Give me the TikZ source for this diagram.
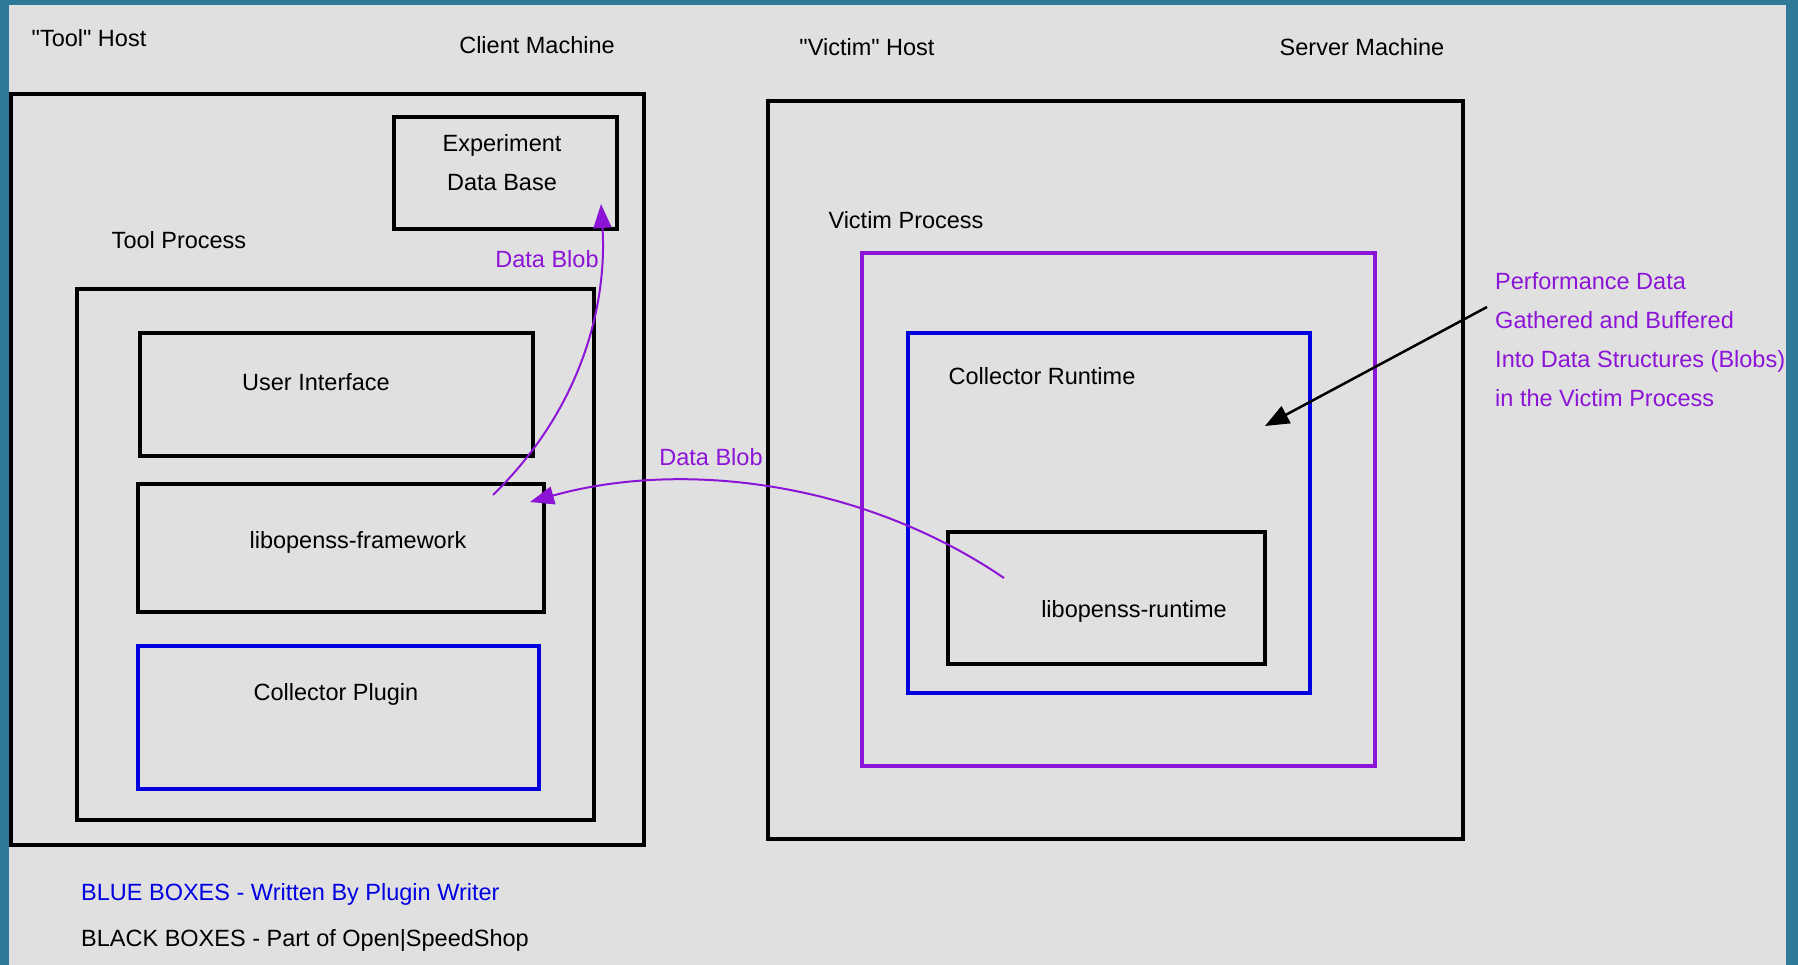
\documentclass[tikz,border=0pt]{standalone}
\usepackage{fontspec}
\setmainfont{Liberation Sans}[Ligatures=TeXOff]
\usetikzlibrary{arrows.meta}
\definecolor{bgteal}{RGB}{46,122,152}
\definecolor{bggray}{RGB}{224,224,224}
\definecolor{vio}{RGB}{140,20,215}
\definecolor{bblue}{RGB}{0,0,225}
\tikzset{
  box/.style={draw=black, line width=4pt, inner sep=0pt},
  bluebox/.style={draw=bblue, line width=3.5pt, inner sep=0pt},
  viobox/.style={draw=vio, line width=3.5pt, inner sep=0pt},
  lbl/.style={inner sep=0pt, font=\fontsize{23.5}{39}\selectfont},
  viotxt/.style={lbl, text=vio},
  vioarrow/.style={draw=vio, line width=2pt, -{Triangle[length=24pt,width=18pt]}},
  blkarrow/.style={draw=black, line width=2.5pt, -{Triangle[length=24pt,width=19pt]}}
}
\begin{document}
\begin{tikzpicture}[x=1pt,y=-1pt]
\useasboundingbox (0,0) rectangle (1798,965);
\fill[bgteal] (0,0) rectangle (1798,965);
\fill[bggray] (9,5) rectangle (1786,965);

% left side
\node (client) [box, minimum width=633pt, minimum height=751pt] at (327.5,469.5) {};
\node (expdb) [box, minimum width=223pt, minimum height=112pt] at (505.5,173) {};
\node (toolproc) [box, minimum width=517pt, minimum height=531pt] at (335.5,554.5) {};
\node (ui) [box, minimum width=393pt, minimum height=123pt] at (336.5,394.5) {};
\node (fw) [box, minimum width=406pt, minimum height=128pt] at (341,548) {};
\node (plugin) [bluebox, minimum width=401pt, minimum height=143pt] at (338.5,717.5) {};

% right side
\node (server) [box, minimum width=695pt, minimum height=738pt] at (1115.5,470) {};
\node (victim) [viobox, minimum width=513pt, minimum height=513pt] at (1118.5,509.5) {};
\node (collrt) [bluebox, minimum width=402pt, minimum height=360pt] at (1109,513) {};
\node (rt) [box, minimum width=317pt, minimum height=132pt] at (1106.5,598) {};

% labels
\node (toolhost) [lbl] at (89,38) {"Tool" Host};
\node (clientlbl) [lbl] at (537,45) {Client Machine};
\node (victimhost) [lbl] at (867,47) {"Victim" Host};
\node (serverlbl) [lbl] at (1362,47) {Server Machine};
\node (expdblbl) [lbl, align=center] at (502,163) {Experiment\\Data Base};
\node (toolproclbl) [lbl] at (179,240) {Tool Process};
\node (uilbl) [lbl] at (316,382) {User Interface};
\node (fwlbl) [lbl] at (358,542) {libopenss-framework};
\node (pluginlbl) [lbl] at (336,694) {Collector Plugin};
\node (victimlbl) [lbl] at (906,220) {Victim Process};
\node (collrtlbl) [lbl] at (1042,376) {Collector Runtime};
\node (rtlbl) [lbl] at (1134,611) {libopenss-runtime};
\node (blob1) [viotxt] at (547,259) {Data Blob};
\node (blob2) [viotxt] at (711,457) {Data Blob};
\node (perf) [viotxt, align=left, anchor=west] at (1495,340) {Performance Data\\Gathered and Buffered\\Into Data Structures (Blobs)\\in the Victim Process};
\node (legblue) [lbl, text=bblue, anchor=west] at (81,894) {BLUE BOXES - Written By Plugin Writer};
\node (legblack) [lbl, anchor=west] at (81,940) {BLACK BOXES - Part of Open|SpeedShop};

% connectors
\coordinate (a1s) at (493,495);
\coordinate (a1e) at (601,204);
\coordinate (a2s) at (1004,578);
\coordinate (a2e) at (530,502);
\coordinate (a3s) at (1487,307);
\coordinate (a3e) at (1265,426);
\draw[vioarrow] (a1s) .. controls (585,405) and (607,300) .. (a1e);
\draw[vioarrow] (a2s) .. controls (860,480) and (680,460) .. (a2e);
\draw[blkarrow] (a3s) -- (a3e);
\end{tikzpicture}
\end{document}
